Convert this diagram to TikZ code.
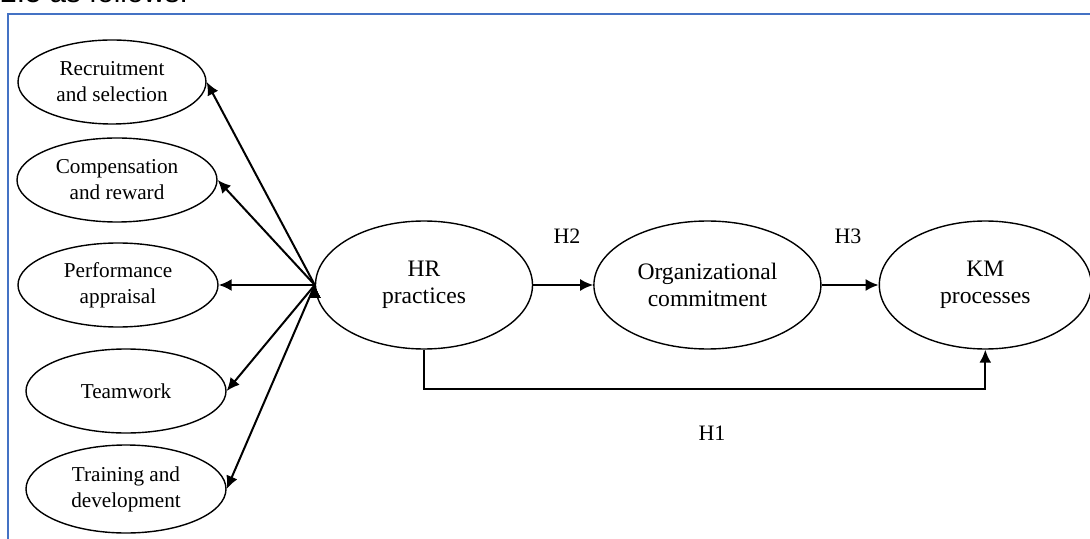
\documentclass[tikz,border=0pt]{standalone}
\usepackage{fontspec}
\setmainfont{Liberation Serif}
\newfontfamily\headfont{Liberation Sans}
\usepackage{tikz}
\usetikzlibrary{positioning, arrows.meta}
\usetikzlibrary{shapes,shapes.geometric}
\usepackage{xcolor}
\definecolor{frameblue}{RGB}{68,114,196}

\begin{document}
\begin{tikzpicture}[x=0.5pt, y=-0.5pt, ->, >={Latex[length=6.5pt,width=6pt]},
		dimension/.style={ellipse, draw, line width=0.7pt, inner sep=0pt, align=center,
			minimum width=100pt, minimum height=42pt, font=\fontsize{10.6}{13}\selectfont},
		construct/.style={ellipse, draw, line width=0.7pt, inner sep=0pt, align=center,
			minimum height=64pt, font=\fontsize{11.8}{13.5}\selectfont},
		hyp/.style={inner sep=0pt, font=\fontsize{11}{13}\selectfont},
		every edge/.style={draw, line width=1pt}]
			\useasboundingbox (0,0) rectangle (1090,539);
			\clip (0,0) rectangle (1090,539);
			
			\node[anchor=base west, inner sep=0pt, font=\headfont\fontsize{14.8}{17}\selectfont] (head) at (0,3) {2.5 as follows:};
			\draw[-, frameblue, line width=1pt] (8,545) -- (8,14) -- (1100,14);
			
			\node[dimension, minimum width=94pt] (recruit) at (112,82) {Recruitment\\and selection};
			\node[dimension] (comp) at (117,180) {Compensation\\and reward};
			\node[dimension] (perf) at (118,285) {Performance\\appraisal};
			\node[dimension] (team) at (126,391) {Teamwork};
			\node[dimension, minimum height=44pt] (train) at (126,489) {Training and\\development};
			
			\node[construct, minimum width=108.5pt] (hr) at (424,285) {HR\\practices};
			\node[construct, minimum width=113.5pt, right = 30pt of hr] (oc) {Organizational\\commitment};
			\node[construct, minimum width=106pt, right = 28.5pt of oc] (km) {KM\\processes};
			
			\draw (hr.west) edge[] (recruit.east);
			\draw (hr.west) edge[] (comp.east);
			\draw (hr.west) edge[] (perf.east);
			\draw (hr.west) edge[] (team.east);
			\draw (hr.west) edge[] (train.east);
			
			\draw (hr) edge[] (oc);
			\draw (oc) edge[] (km);
			\draw[line width=1pt] (hr.south) -- ++(0,39) -| (km.south);
			
			\node[hyp] (h2) at (567,236) {H2};
			\node[hyp] (h3) at (848,236) {H3};
			\node[hyp] (h1) at (712,433) {H1};
	\end{tikzpicture}
\end{document}
